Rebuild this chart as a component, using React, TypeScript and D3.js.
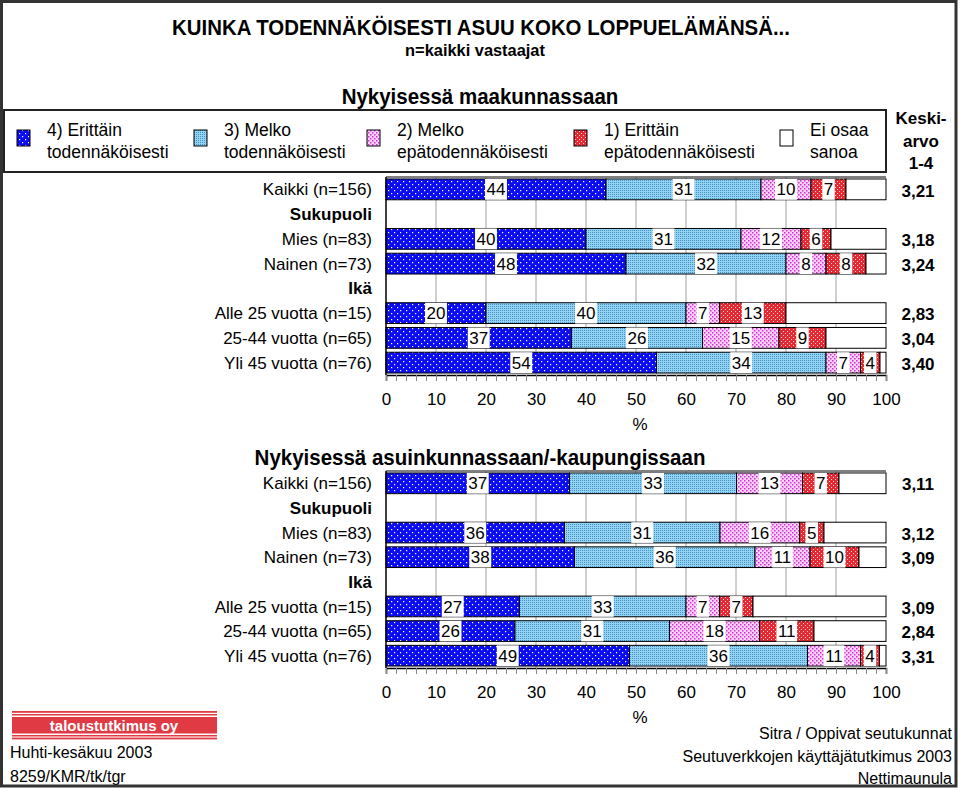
import { useEffect, useRef } from 'react'
import * as d3 from 'd3'

// Rows shared by both panels (header rows carry no bars)
const rowLabels = [
  'Kaikki (n=156)',
  'Sukupuoli',
  'Mies (n=83)',
  'Nainen (n=73)',
  'Ikä',
  'Alle 25 vuotta (n=15)',
  '25-44 vuotta (n=65)',
  'Yli 45 vuotta (n=76)',
]
const headerRows = ['Sukupuoli', 'Ikä']

const seriesKeys = ['erittain', 'melko', 'melkoEpa', 'erittainEpa', 'eiOsaa']
const legendLine1 = ['4) Erittäin', '3) Melko', '2) Melko', '1) Erittäin', 'Ei osaa']
const legendLine2 = ['todennäköisesti', 'todennäköisesti', 'epätodennäköisesti', 'epätodennäköisesti', 'sanoa']

// Nykyisessä maakunnassaan (%)
const maakuntaErittain = [44, 0, 40, 48, 0, 20, 37.1, 54.1]
const maakuntaMelko = [31, 0, 31, 32, 0, 40, 26.2, 33.9]
const maakuntaMelkoEpa = [10, 0, 12, 8, 0, 6.7, 15.3, 6.9]
const maakuntaErittainEpa = [7, 0, 6, 8, 0, 13.3, 9.4, 3.9]
const maakuntaEiOsaa = [8, 0, 11, 4, 0, 20, 12, 1.2]
const maakuntaMean = ['3,21', '', '3,18', '3,24', '', '2,83', '3,04', '3,40']

// Nykyisessä asuinkunnassaan/-kaupungissaan (%)
const kuntaErittain = [36.7, 0, 35.7, 37.7, 0, 26.7, 25.8, 48.7]
const kuntaMelko = [33.4, 0, 31.1, 36.1, 0, 33.3, 30.9, 35.6]
const kuntaMelkoEpa = [13.2, 0, 15.9, 11.0, 0, 6.7, 18.0, 10.6]
const kuntaErittainEpa = [7.3, 0, 4.9, 9.8, 0, 6.7, 10.9, 3.8]
const kuntaEiOsaa = [9.4, 0, 12.4, 5.4, 0, 26.6, 14.4, 1.3]
const kuntaMean = ['3,11', '', '3,12', '3,09', '', '3,09', '2,84', '3,31']

const tickValues = [0, 10, 20, 30, 40, 50, 60, 70, 80, 90, 100]

const FONT = 'Arial, "Liberation Sans", sans-serif'

function buildRows(series: number[][]) {
  return rowLabels.map((label, i) => {
    const row: any = { label }
    seriesKeys.forEach((k, j) => { row[k] = series[j][i] })
    return row
  })
}

export default function App() {
  const svgRef = useRef<SVGSVGElement>(null)

  useEffect(() => {
    if (!svgRef.current) return
    const svg = d3.select(svgRef.current)
    svg.selectAll('*').remove()

    // Fill patterns
    const defs = svg.append('defs')
    const pBlue = defs.append('pattern').attr('id', 'p0').attr('patternUnits', 'userSpaceOnUse')
      .attr('width', 6).attr('height', 6)
    pBlue.append('rect').attr('width', 6).attr('height', 6).attr('fill', '#0c0cf0')
    pBlue.append('rect').attr('x', 1).attr('y', 1).attr('width', 1.2).attr('height', 1.2).attr('fill', '#fff')
    pBlue.append('rect').attr('x', 4).attr('y', 4).attr('width', 1.2).attr('height', 1.2).attr('fill', '#fff')

    const pLight = defs.append('pattern').attr('id', 'p1').attr('patternUnits', 'userSpaceOnUse')
      .attr('width', 2).attr('height', 2)
    pLight.append('rect').attr('width', 2).attr('height', 2).attr('fill', '#92d4f6')
    pLight.append('rect').attr('width', 1).attr('height', 1).attr('fill', '#4a8fbe')

    const pPink = defs.append('pattern').attr('id', 'p2').attr('patternUnits', 'userSpaceOnUse')
      .attr('width', 4).attr('height', 4)
    pPink.append('rect').attr('width', 4).attr('height', 4).attr('fill', '#fbd0fb')
    pPink.append('rect').attr('x', 0).attr('y', 0).attr('width', 1.5).attr('height', 1.5).attr('fill', '#cc33cc')
    pPink.append('rect').attr('x', 2).attr('y', 2).attr('width', 1.5).attr('height', 1.5).attr('fill', '#cc33cc')

    const pRed = defs.append('pattern').attr('id', 'p3').attr('patternUnits', 'userSpaceOnUse')
      .attr('width', 4).attr('height', 4)
    pRed.append('rect').attr('width', 4).attr('height', 4).attr('fill', '#e62a34')
    pRed.append('rect').attr('x', 1).attr('y', 1).attr('width', 1).attr('height', 1).attr('fill', '#fbd0d0')
    pRed.append('rect').attr('x', 3).attr('y', 3).attr('width', 1).attr('height', 1).attr('fill', '#fbd0d0')

    const fills = ['url(#p0)', 'url(#p1)', 'url(#p2)', 'url(#p3)', '#fff']

    svg.append('rect').attr('width', 960).attr('height', 788).attr('fill', '#fff')

    // Titles (the original lettering is a little taller than Arial)
    svg.append('text').attr('transform', 'translate(481,35) scale(1,1.1)').attr('text-anchor', 'middle')
      .style('font', `bold 20.4px ${FONT}`).text('KUINKA TODENNÄKÖISESTI ASUU KOKO LOPPUELÄMÄNSÄ...')
    svg.append('text').attr('x', 475).attr('y', 56).attr('text-anchor', 'middle')
      .style('font', `bold 16.4px ${FONT}`).text('n=kaikki vastaajat')

    // Legend
    svg.append('rect').attr('x', 4).attr('y', 110).attr('width', 882).attr('height', 62)
      .attr('fill', 'none').attr('stroke', '#222').attr('stroke-width', 2)
    const legendX = [17, 194, 367, 574, 780]
    const legend = svg.append('g')
    seriesKeys.forEach((k, i) => {
      legend.append('rect').attr('x', legendX[i]).attr('y', 130).attr('width', 13).attr('height', 16)
        .attr('fill', fills[i]).attr('stroke', '#000').attr('stroke-width', 1)
      legend.append('text').attr('x', legendX[i] + 30).attr('y', 136)
        .style('font', `17.5px ${FONT}`).text(legendLine1[i])
      legend.append('text').attr('x', legendX[i] + 30).attr('y', 158)
        .style('font', `17.5px ${FONT}`).text(legendLine2[i])
    })
    ;['Keski-', 'arvo', '1-4'].forEach((t, i) => {
      svg.append('text').attr('x', 921).attr('y', 124 + i * 22.5).attr('text-anchor', 'middle')
        .style('font', `bold 17px ${FONT}`).text(t)
    })

    const x = d3.scaleLinear().domain([0, 100]).range([386, 886])

    const drawPanel = (title: string, titleY: number, top: number, bottom: number,
      series: number[][], means: string[]) => {
      const rows = buildRows(series)
      const y = d3.scaleBand<string>().domain(rowLabels).range([top, bottom])
        .paddingInner(0.16).paddingOuter(0.08)
      const g = svg.append('g')

      g.append('text').attr('transform', `translate(480,${titleY}) scale(1,1.1)`).attr('text-anchor', 'middle')
        .style('font', `bold 20.5px ${FONT}`).text(title)

      // gridlines
      g.append('g').selectAll('line').data(d3.range(10, 100, 10)).enter().append('line')
        .attr('x1', d => x(d)).attr('x2', d => x(d)).attr('y1', top).attr('y2', bottom)
        .attr('stroke', '#a0a0a0').attr('stroke-width', 1)

      g.append('line').attr('x1', x(0)).attr('x2', x(100)).attr('y1', top).attr('y2', top)
        .attr('stroke', '#555').attr('stroke-width', 1.5)

      // stacked bars
      const stacked = d3.stack<any>().keys(seriesKeys)(rows)
      const barRows = rows.filter(r => !headerRows.includes(r.label))
      stacked.forEach((layer, li) => {
        g.append('g').selectAll('rect')
          .data(layer.filter(d => !headerRows.includes(d.data.label)))
          .enter().append('rect')
          .attr('x', d => x(d[0]))
          .attr('y', d => y(d.data.label)!)
          .attr('width', d => x(d[1]) - x(d[0]))
          .attr('height', y.bandwidth())
          .attr('fill', fills[li])
          .attr('stroke', '#000').attr('stroke-width', 1)
      })

      // value labels with white boxes
      stacked.slice(0, 4).forEach(layer => {
        layer.filter(d => !headerRows.includes(d.data.label)).forEach(d => {
          const cx = x((d[0] + d[1]) / 2)
          const cy = y(d.data.label)! + y.bandwidth() / 2
          const box = g.append('rect').attr('fill', '#fff')
          const t = g.append('text').attr('x', cx).attr('y', cy).attr('dy', '0.36em')
            .attr('text-anchor', 'middle').style('font', `17px ${FONT}`)
            .text(d3.format('.0f')(d[1] - d[0]))
          const w = (t.node() as SVGTextElement).getComputedTextLength() + 3
          box.attr('x', cx - w / 2).attr('y', y(d.data.label)!).attr('width', w).attr('height', y.bandwidth())
        })
      })

      // row labels
      g.append('g').selectAll('text').data(rowLabels).enter().append('text')
        .attr('x', 372).attr('y', d => y(d)! + y.bandwidth() / 2).attr('dy', '0.36em')
        .attr('text-anchor', 'end')
        .style('font', d => headerRows.includes(d) ? `bold 17px ${FONT}` : `17px ${FONT}`)
        .text(d => d)

      // means
      g.append('g').selectAll('text').data(barRows).enter().append('text')
        .attr('x', 918).attr('y', d => y(d.label)! + y.bandwidth() / 2).attr('dy', '0.42em')
        .attr('text-anchor', 'middle').style('font', `bold 17px ${FONT}`)
        .text(d => means[rowLabels.indexOf(d.label)])

      g.append('line').attr('x1', x(0)).attr('x2', x(0)).attr('y1', top).attr('y2', bottom)
        .attr('stroke', '#000').attr('stroke-width', 1.5)

      // x axis
      const axis = d3.axisBottom(x).tickValues(d3.range(0, 101, 2)).tickSize(6).tickPadding(12)
        .tickFormat(d => (tickValues.includes(+d) ? String(d) : ''))
      const ag = g.append('g').attr('transform', `translate(0,${bottom})`).call(axis)
      ag.select('.domain').attr('stroke', '#000').attr('stroke-width', 1.5)
      ag.selectAll('.tick line').attr('stroke', '#888')
      ag.selectAll('.tick text').style('font', `17px ${FONT}`).attr('fill', '#000')
      g.append('text').attr('x', 640).attr('y', bottom + 55).attr('text-anchor', 'middle')
        .style('font', `17px ${FONT}`).text('%')
    }

    drawPanel('Nykyisessä maakunnassaan', 104, 177, 375,
      [maakuntaErittain, maakuntaMelko, maakuntaMelkoEpa, maakuntaErittainEpa, maakuntaEiOsaa], maakuntaMean)
    drawPanel('Nykyisessä asuinkunnassaan/-kaupungissaan', 465, 471, 668,
      [kuntaErittain, kuntaMelko, kuntaMelkoEpa, kuntaErittainEpa, kuntaEiOsaa], kuntaMean)

    // Logo
    const logo = svg.append('g')
    logo.append('rect').attr('x', 12).attr('y', 711).attr('width', 205).attr('height', 1.8).attr('fill', '#e03a44')
    logo.append('rect').attr('x', 12).attr('y', 714).attr('width', 205).attr('height', 1.5).attr('fill', '#e03a44')
    logo.append('rect').attr('x', 12).attr('y', 717).attr('width', 205).attr('height', 16.5).attr('fill', '#e03a44')
    logo.append('rect').attr('x', 12).attr('y', 735).attr('width', 205).attr('height', 1.5).attr('fill', '#e03a44')
    logo.append('rect').attr('x', 12).attr('y', 737.6).attr('width', 205).attr('height', 1.8).attr('fill', '#e03a44')
    logo.append('text').attr('x', 114).attr('y', 730.5).attr('text-anchor', 'middle').attr('fill', '#fff')
      .style('font', `bold 15px ${FONT}`).text('taloustutkimus oy')

    // Footer
    const footLeft = ['Huhti-kesäkuu 2003', '8259/KMR/tk/tgr']
    footLeft.forEach((t, i) => {
      svg.append('text').attr('x', 10).attr('y', 758 + i * 24).style('font', `16px ${FONT}`).text(t)
    })
    const footRight = ['Sitra / Oppivat seutukunnat', 'Seutuverkkojen käyttäjätutkimus 2003', 'Nettimaunula']
    footRight.forEach((t, i) => {
      svg.append('text').attr('x', 952).attr('y', 739 + i * 22.5).attr('text-anchor', 'end')
        .style('font', `16px ${FONT}`).text(t)
    })

    // Outer frame
    svg.append('rect').attr('x', 1.5).attr('y', 1.5).attr('width', 954.5).attr('height', 784.5)
      .attr('fill', 'none').attr('stroke', '#333').attr('stroke-width', 3)
  }, [])

  return (
    <svg
      ref={svgRef}
      width={960}
      height={788}
      style={{ position: 'absolute', left: 0, top: 0, display: 'block' }}
    />
  )
}
